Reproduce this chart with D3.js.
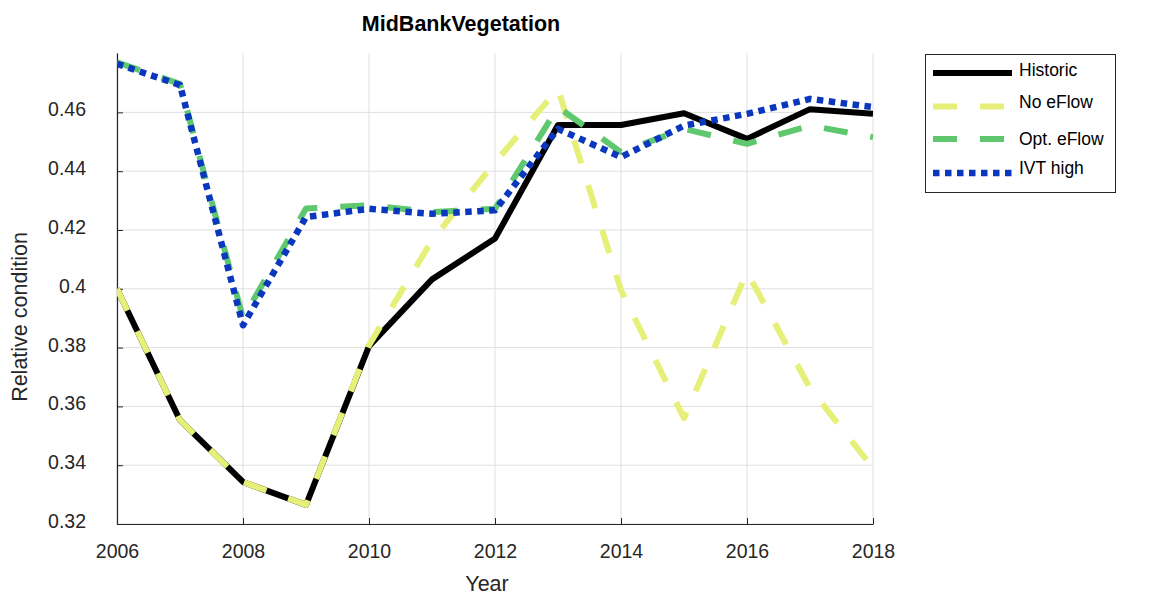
<!DOCTYPE html>
<html>
<head>
<meta charset="utf-8">
<script src="https://cdn.jsdelivr.net/npm/d3@7"></script>
<style>
  html, body { margin: 0; padding: 0; background: #ffffff; }
  svg { display: block; font-family: "Liberation Sans", Arial, sans-serif; }
</style>
</head>
<body>
<svg id="chart" width="1149" height="596"></svg>
<script>
// ---- data ----
const years = [2006, 2007, 2008, 2009, 2010, 2011, 2012, 2013, 2014, 2015, 2016, 2017, 2018];
const historic = [0.400, 0.3553, 0.3343, 0.3265, 0.3805, 0.4032, 0.4171, 0.4557, 0.4557, 0.4597, 0.4510, 0.4611, 0.4595];
const noEFlow  = [0.400, 0.3553, 0.3343, 0.3265, 0.3808, 0.4165, 0.4430, 0.4680, 0.3995, 0.3560, 0.4057, 0.3662, 0.3390];
const optEFlow = [0.4770, 0.4697, 0.3900, 0.4273, 0.4284, 0.4261, 0.4272, 0.4618, 0.4465, 0.4544, 0.4493, 0.4555, 0.4516];
const ivtHigh  = [0.4765, 0.4693, 0.3876, 0.4244, 0.4272, 0.4255, 0.4267, 0.4544, 0.4448, 0.4555, 0.4595, 0.4646, 0.4618];
const seriesNames = ["Historic", "No eFlow", "Opt. eFlow", "IVT high"];
const xTicks = [2006, 2008, 2010, 2012, 2014, 2016, 2018];
const yTicks = [0.32, 0.34, 0.36, 0.38, 0.40, 0.42, 0.44, 0.46];
const yTickLabels = ["0.32", "0.34", "0.36", "0.38", "0.4", "0.42", "0.44", "0.46"];
const titleText = "MidBankVegetation";
const xLabelText = "Year";
const yLabelText = "Relative condition";

(function () {
// ---- styles ----
const styles = [
  { color: "#000000", dash: null,        width: 6 },
  { color: "#e6ef78", dash: "24,23",     width: 6 },
  { color: "#5fc86e", dash: "24,23",     width: 6 },
  { color: "#0a37be", dash: "6.5,5.5",   width: 6.5 }
];
const allSeries = [historic, noEFlow, optEFlow, ivtHigh];

const pL = 117, pR = 873, pT = 53, pB = 524;
const axisColor = "#262626";
const gridColor = "#dfdfdf";

const svg = d3.select("#chart");
const x = d3.scaleLinear().domain([2006, 2018]).range([pL, pR]);
const y = d3.scaleLinear().domain([0.32, 0.4802]).range([pB, pT]);

// grid
svg.append("g").selectAll("line").data(xTicks).join("line")
  .attr("x1", d => x(d)).attr("x2", d => x(d))
  .attr("y1", pT).attr("y2", pB)
  .attr("stroke", gridColor).attr("stroke-width", 1);
svg.append("g").selectAll("line").data(yTicks).join("line")
  .attr("x1", pL).attr("x2", pR)
  .attr("y1", d => y(d)).attr("y2", d => y(d))
  .attr("stroke", gridColor).attr("stroke-width", 1);

// axes
const xAxis = d3.axisBottom(x).tickValues(xTicks).tickFormat(d3.format("d"))
  .tickSizeInner(-6).tickSizeOuter(0).tickPadding(16);
const gx = svg.append("g").attr("transform", `translate(0,${pB})`).call(xAxis);
gx.select(".domain").attr("stroke", axisColor).attr("stroke-width", 1.2);
gx.selectAll(".tick line").attr("stroke", axisColor);
gx.selectAll(".tick text").attr("fill", axisColor).attr("font-size", "19.5px")
  .attr("font-family", "Liberation Sans, Arial, sans-serif").attr("dy", "0.9em");

const yAxis = d3.axisLeft(y).tickValues(yTicks).tickFormat((d, i) => yTickLabels[i])
  .tickSizeInner(-6).tickSizeOuter(0).tickPadding(31);
const gy = svg.append("g").attr("transform", `translate(${pL},0)`).call(yAxis);
gy.select(".domain").attr("stroke", axisColor).attr("stroke-width", 1.2);
gy.selectAll(".tick line").attr("stroke", axisColor);
gy.selectAll(".tick text").attr("fill", axisColor).attr("font-size", "19.5px")
  .attr("font-family", "Liberation Sans, Arial, sans-serif").attr("dy", "0.18em");

// lines
const clipId = "plotclip";
svg.append("clipPath").attr("id", clipId).append("rect")
  .attr("x", pL).attr("y", pT - 10).attr("width", pR - pL).attr("height", pB - pT + 10);
const line = d3.line().x((d, i) => x(years[i])).y(d => y(d));
const gl = svg.append("g").attr("clip-path", `url(#${clipId})`);
allSeries.forEach((s, k) => {
  const st = styles[k];
  const p = gl.append("path").datum(s)
    .attr("d", line)
    .attr("fill", "none")
    .attr("stroke", st.color)
    .attr("stroke-width", st.width)
    .attr("stroke-linejoin", "round");
  if (st.dash) p.attr("stroke-dasharray", st.dash);
});

// title & labels
svg.append("text").attr("x", 461).attr("y", 31).attr("text-anchor", "middle")
  .attr("font-size", "21.5px").attr("font-weight", "bold").attr("fill", "#000")
  .text(titleText);
svg.append("text").attr("x", 487).attr("y", 591).attr("text-anchor", "middle")
  .attr("font-size", "21.5px").attr("fill", axisColor).text(xLabelText);
svg.append("text").attr("transform", "translate(27,317) rotate(-90)")
  .attr("text-anchor", "middle").attr("font-size", "21.5px").attr("fill", axisColor)
  .text(yLabelText);

// legend
const lg = svg.append("g");
lg.append("rect").attr("x", 925.5).attr("y", 54.5).attr("width", 190).attr("height", 138)
  .attr("fill", "#fff").attr("stroke", axisColor).attr("stroke-width", 1);
const lineYs = [73, 106.5, 139, 173];
const textYs = [69.5, 102, 138.5, 167.5];
seriesNames.forEach((name, k) => {
  const st = styles[k];
  const l = lg.append("line").attr("x1", 933).attr("x2", 1012)
    .attr("y1", lineYs[k]).attr("y2", lineYs[k])
    .attr("stroke", st.color).attr("stroke-width", st.width);
  if (st.dash) l.attr("stroke-dasharray", st.dash);
  lg.append("text").attr("x", 1019).attr("y", textYs[k]).attr("dy", "0.35em")
    .attr("font-size", "17.5px").attr("fill", "#000").text(name);
});
})();
</script>
</body>
</html>
